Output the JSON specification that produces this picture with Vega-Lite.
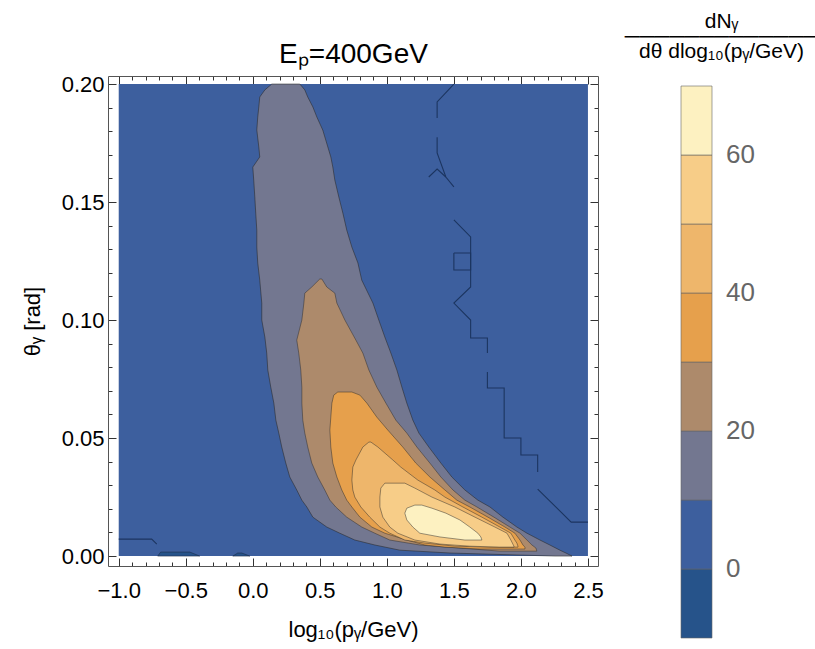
{
  "$schema": "https://vega.github.io/schema/vega-lite/v6.json",
  "width": 490,
  "height": 490,
  "autosize": "none",
  "padding": {"left": 108, "top": 76, "right": 217, "bottom": 83},
  "config": {
    "view": {"stroke": null},
    "font": "Liberation Sans",
    "axis": {"grid": false, "domainColor": "#555", "tickColor": "#333", "tickWidth": 1, "labelFont": "Liberation Sans", "labelFontSize": 22, "labelColor": "#000", "titleFont": "Liberation Sans", "titleFontSize": 22, "titleFontWeight": "normal", "titleColor": "#000", "labelOverlap": false, "labelFlush": false, "labelBound": false}
  },
  "datasets": {
    "bg": [{"p1": -1.0, "p2": 2.5, "t1": 0, "t2": 0.2, "lev": 5}],
    "regions": [
      {"lev": -5, "id": "b1", "theta": 0.0017, "p1": -0.687, "p2": -0.470},
      {"lev": -5, "id": "b1", "theta": 0.0, "p1": -0.709, "p2": -0.396},
      {"lev": -5, "id": "b2", "theta": 0.0013, "p1": -0.112, "p2": -0.082},
      {"lev": -5, "id": "b2", "theta": 0.0, "p1": -0.149, "p2": -0.022},
      {"lev": 15, "id": "g", "theta": 0.2, "p1": 0.142, "p2": 0.351},
      {"lev": 15, "id": "g", "theta": 0.1975, "p1": 0.090, "p2": 0.388},
      {"lev": 15, "id": "g", "theta": 0.1945, "p1": 0.052, "p2": 0.410},
      {"lev": 15, "id": "g", "theta": 0.1903, "p1": 0.045, "p2": 0.448},
      {"lev": 15, "id": "g", "theta": 0.186, "p1": 0.037, "p2": 0.478},
      {"lev": 15, "id": "g", "theta": 0.1805, "p1": 0.030, "p2": 0.522},
      {"lev": 15, "id": "g", "theta": 0.1733, "p1": 0.045, "p2": 0.560},
      {"lev": 15, "id": "g", "theta": 0.1691, "p1": 0.052, "p2": 0.582},
      {"lev": 15, "id": "g", "theta": 0.1648, "p1": 0.0, "p2": 0.597},
      {"lev": 15, "id": "g", "theta": 0.1593, "p1": 0.007, "p2": 0.612},
      {"lev": 15, "id": "g", "theta": 0.1521, "p1": 0.015, "p2": 0.642},
      {"lev": 15, "id": "g", "theta": 0.1453, "p1": 0.022, "p2": 0.672},
      {"lev": 15, "id": "g", "theta": 0.1381, "p1": 0.030, "p2": 0.701},
      {"lev": 15, "id": "g", "theta": 0.1309, "p1": 0.030, "p2": 0.739},
      {"lev": 15, "id": "g", "theta": 0.1242, "p1": 0.037, "p2": 0.784},
      {"lev": 15, "id": "g", "theta": 0.1169, "p1": 0.052, "p2": 0.813},
      {"lev": 15, "id": "g", "theta": 0.1072, "p1": 0.067, "p2": 0.896},
      {"lev": 15, "id": "g", "theta": 0.1, "p1": 0.067, "p2": 0.940},
      {"lev": 15, "id": "g", "theta": 0.0928, "p1": 0.090, "p2": 0.985},
      {"lev": 15, "id": "g", "theta": 0.086, "p1": 0.104, "p2": 1.030},
      {"lev": 15, "id": "g", "theta": 0.0788, "p1": 0.112, "p2": 1.075},
      {"lev": 15, "id": "g", "theta": 0.0716, "p1": 0.134, "p2": 1.112},
      {"lev": 15, "id": "g", "theta": 0.0648, "p1": 0.157, "p2": 1.149},
      {"lev": 15, "id": "g", "theta": 0.0576, "p1": 0.172, "p2": 1.194},
      {"lev": 15, "id": "g", "theta": 0.0521, "p1": 0.194, "p2": 1.239},
      {"lev": 15, "id": "g", "theta": 0.0462, "p1": 0.216, "p2": 1.313},
      {"lev": 15, "id": "g", "theta": 0.0394, "p1": 0.246, "p2": 1.403},
      {"lev": 15, "id": "g", "theta": 0.0335, "p1": 0.276, "p2": 1.485},
      {"lev": 15, "id": "g", "theta": 0.028, "p1": 0.328, "p2": 1.582},
      {"lev": 15, "id": "g", "theta": 0.0237, "p1": 0.366, "p2": 1.679},
      {"lev": 15, "id": "g", "theta": 0.0208, "p1": 0.403, "p2": 1.769},
      {"lev": 15, "id": "g", "theta": 0.0165, "p1": 0.448, "p2": 1.866},
      {"lev": 15, "id": "g", "theta": 0.0123, "p1": 0.552, "p2": 1.970},
      {"lev": 15, "id": "g", "theta": 0.0097, "p1": 0.649, "p2": 2.045},
      {"lev": 15, "id": "g", "theta": 0.0068, "p1": 0.761, "p2": 2.142},
      {"lev": 15, "id": "g", "theta": 0.0047, "p1": 0.910, "p2": 2.216},
      {"lev": 15, "id": "g", "theta": 0.0025, "p1": 1.097, "p2": 2.291},
      {"lev": 15, "id": "g", "theta": 0.0013, "p1": 1.470, "p2": 2.336},
      {"lev": 15, "id": "g", "theta": 0.0, "p1": 2.254, "p2": 2.381},
      {"lev": 25, "id": "br", "theta": 0.1174, "p1": 0.500, "p2": 0.515},
      {"lev": 25, "id": "br", "theta": 0.114, "p1": 0.440, "p2": 0.552},
      {"lev": 25, "id": "br", "theta": 0.1114, "p1": 0.388, "p2": 0.612},
      {"lev": 25, "id": "br", "theta": 0.1072, "p1": 0.381, "p2": 0.627},
      {"lev": 25, "id": "br", "theta": 0.1, "p1": 0.366, "p2": 0.687},
      {"lev": 25, "id": "br", "theta": 0.0915, "p1": 0.328, "p2": 0.769},
      {"lev": 25, "id": "br", "theta": 0.086, "p1": 0.343, "p2": 0.821},
      {"lev": 25, "id": "br", "theta": 0.0788, "p1": 0.358, "p2": 0.866},
      {"lev": 25, "id": "br", "theta": 0.0716, "p1": 0.366, "p2": 0.925},
      {"lev": 25, "id": "br", "theta": 0.0648, "p1": 0.366, "p2": 0.993},
      {"lev": 25, "id": "br", "theta": 0.0576, "p1": 0.373, "p2": 1.067},
      {"lev": 25, "id": "br", "theta": 0.0521, "p1": 0.388, "p2": 1.149},
      {"lev": 25, "id": "br", "theta": 0.0462, "p1": 0.410, "p2": 1.224},
      {"lev": 25, "id": "br", "theta": 0.0394, "p1": 0.440, "p2": 1.321},
      {"lev": 25, "id": "br", "theta": 0.0335, "p1": 0.485, "p2": 1.403},
      {"lev": 25, "id": "br", "theta": 0.028, "p1": 0.537, "p2": 1.493},
      {"lev": 25, "id": "br", "theta": 0.0237, "p1": 0.575, "p2": 1.582},
      {"lev": 25, "id": "br", "theta": 0.0208, "p1": 0.619, "p2": 1.672},
      {"lev": 25, "id": "br", "theta": 0.0165, "p1": 0.701, "p2": 1.799},
      {"lev": 25, "id": "br", "theta": 0.0123, "p1": 0.813, "p2": 1.918},
      {"lev": 25, "id": "br", "theta": 0.0097, "p1": 0.910, "p2": 1.993},
      {"lev": 25, "id": "br", "theta": 0.0068, "p1": 1.022, "p2": 2.045},
      {"lev": 25, "id": "br", "theta": 0.0047, "p1": 1.246, "p2": 2.082},
      {"lev": 25, "id": "br", "theta": 0.0034, "p1": 1.545, "p2": 2.112},
      {"lev": 25, "id": "br", "theta": 0.0021, "p1": 1.843, "p2": 2.119},
      {"lev": 35, "id": "or", "theta": 0.0695, "p1": 0.634, "p2": 0.739},
      {"lev": 35, "id": "or", "theta": 0.0682, "p1": 0.604, "p2": 0.799},
      {"lev": 35, "id": "or", "theta": 0.0648, "p1": 0.590, "p2": 0.851},
      {"lev": 35, "id": "or", "theta": 0.0589, "p1": 0.582, "p2": 0.925},
      {"lev": 35, "id": "or", "theta": 0.0534, "p1": 0.575, "p2": 1.007},
      {"lev": 35, "id": "or", "theta": 0.0462, "p1": 0.582, "p2": 1.119},
      {"lev": 35, "id": "or", "theta": 0.0394, "p1": 0.597, "p2": 1.216},
      {"lev": 35, "id": "or", "theta": 0.0335, "p1": 0.627, "p2": 1.321},
      {"lev": 35, "id": "or", "theta": 0.028, "p1": 0.664, "p2": 1.433},
      {"lev": 35, "id": "or", "theta": 0.0237, "p1": 0.701, "p2": 1.522},
      {"lev": 35, "id": "or", "theta": 0.0208, "p1": 0.739, "p2": 1.619},
      {"lev": 35, "id": "or", "theta": 0.0165, "p1": 0.799, "p2": 1.754},
      {"lev": 35, "id": "or", "theta": 0.0123, "p1": 0.888, "p2": 1.881},
      {"lev": 35, "id": "or", "theta": 0.0097, "p1": 0.985, "p2": 1.955},
      {"lev": 35, "id": "or", "theta": 0.0068, "p1": 1.149, "p2": 1.993},
      {"lev": 35, "id": "or", "theta": 0.0047, "p1": 1.284, "p2": 2.015},
      {"lev": 35, "id": "or", "theta": 0.0038, "p1": 1.433, "p2": 2.030},
      {"lev": 35, "id": "or", "theta": 0.003, "p1": 1.694, "p2": 2.030},
      {"lev": 45, "id": "lo", "theta": 0.0483, "p1": 0.866, "p2": 0.881},
      {"lev": 45, "id": "lo", "theta": 0.0462, "p1": 0.821, "p2": 0.933},
      {"lev": 45, "id": "lo", "theta": 0.0407, "p1": 0.769, "p2": 1.045},
      {"lev": 45, "id": "lo", "theta": 0.0377, "p1": 0.746, "p2": 1.104},
      {"lev": 45, "id": "lo", "theta": 0.0322, "p1": 0.739, "p2": 1.231},
      {"lev": 45, "id": "lo", "theta": 0.028, "p1": 0.746, "p2": 1.358},
      {"lev": 45, "id": "lo", "theta": 0.025, "p1": 0.761, "p2": 1.433},
      {"lev": 45, "id": "lo", "theta": 0.0208, "p1": 0.806, "p2": 1.567},
      {"lev": 45, "id": "lo", "theta": 0.0165, "p1": 0.873, "p2": 1.709},
      {"lev": 45, "id": "lo", "theta": 0.0123, "p1": 0.948, "p2": 1.843},
      {"lev": 45, "id": "lo", "theta": 0.0097, "p1": 1.022, "p2": 1.925},
      {"lev": 45, "id": "lo", "theta": 0.0068, "p1": 1.134, "p2": 1.955},
      {"lev": 45, "id": "lo", "theta": 0.0055, "p1": 1.284, "p2": 1.970},
      {"lev": 45, "id": "lo", "theta": 0.0042, "p1": 1.507, "p2": 1.978},
      {"lev": 45, "id": "lo", "theta": 0.0038, "p1": 1.769, "p2": 1.978},
      {"lev": 55, "id": "po", "theta": 0.0309, "p1": 0.985, "p2": 1.134},
      {"lev": 55, "id": "po", "theta": 0.0288, "p1": 0.955, "p2": 1.209},
      {"lev": 55, "id": "po", "theta": 0.025, "p1": 0.948, "p2": 1.336},
      {"lev": 55, "id": "po", "theta": 0.0208, "p1": 0.948, "p2": 1.507},
      {"lev": 55, "id": "po", "theta": 0.0165, "p1": 0.970, "p2": 1.657},
      {"lev": 55, "id": "po", "theta": 0.0123, "p1": 1.022, "p2": 1.806},
      {"lev": 55, "id": "po", "theta": 0.0097, "p1": 1.082, "p2": 1.896},
      {"lev": 55, "id": "po", "theta": 0.0068, "p1": 1.209, "p2": 1.925},
      {"lev": 55, "id": "po", "theta": 0.0051, "p1": 1.396, "p2": 1.940},
      {"lev": 55, "id": "po", "theta": 0.0042, "p1": 1.619, "p2": 1.948},
      {"lev": 55, "id": "po", "theta": 0.0038, "p1": 1.843, "p2": 1.948},
      {"lev": 65, "id": "y", "theta": 0.0216, "p1": 1.209, "p2": 1.261},
      {"lev": 65, "id": "y", "theta": 0.0203, "p1": 1.149, "p2": 1.336},
      {"lev": 65, "id": "y", "theta": 0.0182, "p1": 1.134, "p2": 1.440},
      {"lev": 65, "id": "y", "theta": 0.0153, "p1": 1.149, "p2": 1.545},
      {"lev": 65, "id": "y", "theta": 0.0123, "p1": 1.194, "p2": 1.619},
      {"lev": 65, "id": "y", "theta": 0.0097, "p1": 1.246, "p2": 1.679},
      {"lev": 65, "id": "y", "theta": 0.0081, "p1": 1.396, "p2": 1.701},
      {"lev": 65, "id": "y", "theta": 0.0068, "p1": 1.582, "p2": 1.709}
    ],
    "lines": [
      {"id": "s1", "seq": 1, "p": 1.5, "theta": 0.2},
      {"id": "s1", "seq": 2, "p": 1.375, "theta": 0.1924},
      {"id": "s1", "seq": 3, "p": 1.375, "theta": 0.1856},
      {"id": "s2", "seq": 1, "p": 1.375, "theta": 0.1775},
      {"id": "s2", "seq": 2, "p": 1.375, "theta": 0.1708},
      {"id": "s2", "seq": 3, "p": 1.44, "theta": 0.1606},
      {"id": "s2", "seq": 4, "p": 1.5, "theta": 0.1564},
      {"id": "s3", "seq": 1, "p": 1.3125, "theta": 0.1606},
      {"id": "s3", "seq": 2, "p": 1.375, "theta": 0.164},
      {"id": "s3", "seq": 3, "p": 1.44, "theta": 0.1606},
      {"id": "s4", "seq": 1, "p": 1.5, "theta": 0.1424},
      {"id": "s4", "seq": 2, "p": 1.625, "theta": 0.1352},
      {"id": "s4", "seq": 3, "p": 1.625, "theta": 0.114},
      {"id": "s4", "seq": 4, "p": 1.5, "theta": 0.1072},
      {"id": "s4", "seq": 5, "p": 1.625, "theta": 0.1},
      {"id": "s4", "seq": 6, "p": 1.625, "theta": 0.0924},
      {"id": "s4", "seq": 7, "p": 1.75, "theta": 0.0924},
      {"id": "s4", "seq": 8, "p": 1.75, "theta": 0.086},
      {"id": "sq", "seq": 1, "p": 1.5, "theta": 0.1284},
      {"id": "sq", "seq": 2, "p": 1.625, "theta": 0.1284},
      {"id": "sq", "seq": 3, "p": 1.625, "theta": 0.1212},
      {"id": "sq", "seq": 4, "p": 1.5, "theta": 0.1212},
      {"id": "sq", "seq": 5, "p": 1.5, "theta": 0.1284},
      {"id": "s5", "seq": 1, "p": 1.75, "theta": 0.078},
      {"id": "s5", "seq": 2, "p": 1.75, "theta": 0.0712},
      {"id": "s5", "seq": 3, "p": 1.875, "theta": 0.0712},
      {"id": "s5", "seq": 4, "p": 1.875, "theta": 0.05},
      {"id": "s5", "seq": 5, "p": 2.0, "theta": 0.05},
      {"id": "s5", "seq": 6, "p": 2.0, "theta": 0.0428},
      {"id": "s5", "seq": 7, "p": 2.125, "theta": 0.0428},
      {"id": "s5", "seq": 8, "p": 2.125, "theta": 0.0356},
      {"id": "s6", "seq": 1, "p": 2.125, "theta": 0.0284},
      {"id": "s6", "seq": 2, "p": 2.375, "theta": 0.0144},
      {"id": "s6", "seq": 3, "p": 2.5, "theta": 0.0144},
      {"id": "s7", "seq": 1, "p": -1.0, "theta": 0.0072},
      {"id": "s7", "seq": 2, "p": -0.754, "theta": 0.0072},
      {"id": "s7", "seq": 3, "p": -0.716, "theta": 0.0051}
    ]
  },
  "layer": [
    {
      "data": {"name": "bg"},
      "mark": {"type": "rect"},
      "encoding": {
        "x": {"field": "p1", "type": "quantitative", "scale": {"domain": [-1.08, 2.575], "nice": false, "zero": false},
          "axis": {"orient": "bottom", "values": [-1,-0.9,-0.8,-0.7,-0.6,-0.5,-0.4,-0.3,-0.2,-0.1,0,0.1,0.2,0.3,0.4,0.5,0.6,0.7,0.8,0.9,1,1.1,1.2,1.3,1.4,1.5,1.6,1.7,1.8,1.9,2,2.1,2.2,2.3,2.4,2.5],
            "format": ".1f", "labelExpr": "abs(datum.value*2 - round(datum.value*2)) < 0.001 ? datum.label : ''",
            "tickSize": {"condition": {"test": "abs(datum.value*2 - round(datum.value*2)) < 0.001", "value": -8}, "value": -4},
            "labelPadding": 22, "title": "log₁₀(pᵧ/GeV)", "titlePadding": 14}},
        "x2": {"field": "p2"},
        "y": {"field": "t1", "type": "quantitative", "scale": {"domain": [-0.0042, 0.2034], "nice": false, "zero": false},
          "axis": {"orient": "left", "values": [0,0.01,0.02,0.03,0.04,0.05,0.06,0.07,0.08,0.09,0.1,0.11,0.12,0.13,0.14,0.15,0.16,0.17,0.18,0.19,0.2],
            "format": ".2f", "labelExpr": "abs(datum.value*20 - round(datum.value*20)) < 0.001 ? datum.label : ''",
            "tickSize": {"condition": {"test": "abs(datum.value*20 - round(datum.value*20)) < 0.001", "value": -8}, "value": -4},
            "labelPadding": 12, "title": "θᵧ [rad]", "titlePadding": 17}},
        "y2": {"field": "t2"},
        "color": {"field": "lev", "type": "quantitative",
          "scale": {"type": "threshold", "domain": [0,10,20,30,40,50,60], "range": ["#26538a","#3d5f9e","#737790","#ad8a6b","#e6a04c","#eeb66b","#f7cd88","#fdf1c1"]},
          "legend": {"type": "gradient", "direction": "vertical", "orient": "none", "legendX": 573, "legendY": 10, "padding": 0,
            "gradientLength": 552, "gradientThickness": 31, "gradientStrokeColor": "#666", "gradientStrokeWidth": 0.6,
            "title": null,
            "labelFont": "Liberation Sans", "labelFontSize": 26, "labelColor": "#666", "labelOffset": 14,
            "labelExpr": "datum.value % 20 === 0 ? datum.label : ''"}}
      }
    },
    {
      "data": {"name": "regions"},
      "transform": [{"filter": "datum.lev == -5"}],
      "mark": {"type": "area", "orient": "horizontal", "interpolate": "linear", "stroke": "#1b2a45", "strokeWidth": 0.8, "strokeOpacity": 0.7},
      "encoding": {
        "y": {"field": "theta", "type": "quantitative", "axis": null},
        "x": {"field": "p1", "type": "quantitative", "axis": null, "stack": null},
        "x2": {"field": "p2"},
        "detail": {"field": "id"},
        "color": {"field": "lev", "type": "quantitative", "scale": {"type": "threshold", "domain": [0,10,20,30,40,50,60], "range": ["#26538a","#3d5f9e","#737790","#ad8a6b","#e6a04c","#eeb66b","#f7cd88","#fdf1c1"]}}
      }
    },
    {
      "data": {"name": "regions"},
      "transform": [{"filter": "datum.lev == 15"}],
      "mark": {"type": "area", "orient": "horizontal", "interpolate": "linear", "stroke": "#2a2a2a", "strokeWidth": 0.8, "strokeOpacity": 0.7},
      "encoding": {
        "y": {"field": "theta", "type": "quantitative", "axis": null},
        "x": {"field": "p1", "type": "quantitative", "axis": null, "stack": null},
        "x2": {"field": "p2"},
        "color": {"field": "lev", "type": "quantitative", "scale": {"type": "threshold", "domain": [0,10,20,30,40,50,60], "range": ["#26538a","#3d5f9e","#737790","#ad8a6b","#e6a04c","#eeb66b","#f7cd88","#fdf1c1"]}}
      }
    },
    {
      "data": {"name": "regions"},
      "transform": [{"filter": "datum.lev == 25"}],
      "mark": {"type": "area", "orient": "horizontal", "interpolate": "linear", "stroke": "#2a2a2a", "strokeWidth": 0.8, "strokeOpacity": 0.6},
      "encoding": {
        "y": {"field": "theta", "type": "quantitative", "axis": null},
        "x": {"field": "p1", "type": "quantitative", "axis": null, "stack": null},
        "x2": {"field": "p2"},
        "color": {"field": "lev", "type": "quantitative", "scale": {"type": "threshold", "domain": [0,10,20,30,40,50,60], "range": ["#26538a","#3d5f9e","#737790","#ad8a6b","#e6a04c","#eeb66b","#f7cd88","#fdf1c1"]}}
      }
    },
    {
      "data": {"name": "regions"},
      "transform": [{"filter": "datum.lev == 35"}],
      "mark": {"type": "area", "orient": "horizontal", "interpolate": "linear", "stroke": "#2a2a2a", "strokeWidth": 0.8, "strokeOpacity": 0.6},
      "encoding": {
        "y": {"field": "theta", "type": "quantitative", "axis": null},
        "x": {"field": "p1", "type": "quantitative", "axis": null, "stack": null},
        "x2": {"field": "p2"},
        "color": {"field": "lev", "type": "quantitative", "scale": {"type": "threshold", "domain": [0,10,20,30,40,50,60], "range": ["#26538a","#3d5f9e","#737790","#ad8a6b","#e6a04c","#eeb66b","#f7cd88","#fdf1c1"]}}
      }
    },
    {
      "data": {"name": "regions"},
      "transform": [{"filter": "datum.lev == 45"}],
      "mark": {"type": "area", "orient": "horizontal", "interpolate": "linear", "stroke": "#2a2a2a", "strokeWidth": 0.8, "strokeOpacity": 0.6},
      "encoding": {
        "y": {"field": "theta", "type": "quantitative", "axis": null},
        "x": {"field": "p1", "type": "quantitative", "axis": null, "stack": null},
        "x2": {"field": "p2"},
        "color": {"field": "lev", "type": "quantitative", "scale": {"type": "threshold", "domain": [0,10,20,30,40,50,60], "range": ["#26538a","#3d5f9e","#737790","#ad8a6b","#e6a04c","#eeb66b","#f7cd88","#fdf1c1"]}}
      }
    },
    {
      "data": {"name": "regions"},
      "transform": [{"filter": "datum.lev == 55"}],
      "mark": {"type": "area", "orient": "horizontal", "interpolate": "linear", "stroke": "#2a2a2a", "strokeWidth": 0.8, "strokeOpacity": 0.6},
      "encoding": {
        "y": {"field": "theta", "type": "quantitative", "axis": null},
        "x": {"field": "p1", "type": "quantitative", "axis": null, "stack": null},
        "x2": {"field": "p2"},
        "color": {"field": "lev", "type": "quantitative", "scale": {"type": "threshold", "domain": [0,10,20,30,40,50,60], "range": ["#26538a","#3d5f9e","#737790","#ad8a6b","#e6a04c","#eeb66b","#f7cd88","#fdf1c1"]}}
      }
    },
    {
      "data": {"name": "regions"},
      "transform": [{"filter": "datum.lev == 65"}],
      "mark": {"type": "area", "orient": "horizontal", "interpolate": "linear", "stroke": "#2a2a2a", "strokeWidth": 0.8, "strokeOpacity": 0.6},
      "encoding": {
        "y": {"field": "theta", "type": "quantitative", "axis": null},
        "x": {"field": "p1", "type": "quantitative", "axis": null, "stack": null},
        "x2": {"field": "p2"},
        "color": {"field": "lev", "type": "quantitative", "scale": {"type": "threshold", "domain": [0,10,20,30,40,50,60], "range": ["#26538a","#3d5f9e","#737790","#ad8a6b","#e6a04c","#eeb66b","#f7cd88","#fdf1c1"]}}
      }
    },
    {
      "data": {"name": "lines"},
      "mark": {"type": "line", "color": "#1c3560", "strokeWidth": 1.1},
      "encoding": {
        "x": {"field": "p", "type": "quantitative", "axis": null},
        "y": {"field": "theta", "type": "quantitative", "axis": null},
        "detail": {"field": "id"},
        "order": {"field": "seq", "type": "quantitative"}
      }
    },
    {
      "data": {"name": "bg"},
      "mark": {"type": "rect", "opacity": 0},
      "encoding": {
        "x": {"field": "p1", "type": "quantitative",
          "axis": {"orient": "top", "values": [-1,-0.9,-0.8,-0.7,-0.6,-0.5,-0.4,-0.3,-0.2,-0.1,0,0.1,0.2,0.3,0.4,0.5,0.6,0.7,0.8,0.9,1,1.1,1.2,1.3,1.4,1.5,1.6,1.7,1.8,1.9,2,2.1,2.2,2.3,2.4,2.5],
            "labels": false, "title": "Eₚ=400GeV", "titleFontSize": 28, "titlePadding": 7,
            "tickSize": {"condition": {"test": "abs(datum.value*2 - round(datum.value*2)) < 0.001", "value": -8}, "value": -4}}},
        "x2": {"field": "p2"},
        "y": {"field": "t1", "type": "quantitative",
          "axis": {"orient": "right", "values": [0,0.01,0.02,0.03,0.04,0.05,0.06,0.07,0.08,0.09,0.1,0.11,0.12,0.13,0.14,0.15,0.16,0.17,0.18,0.19,0.2],
            "labels": false,
            "title": ["dNᵧ", "─────────────", "dθ dlog₁₀(pᵧ/GeV)"],
            "titleAngle": 0, "titleAlign": "center", "titleBaseline": "top", "titleX": 123, "titleY": -66,
            "titleFontSize": 21, "titleLineHeight": 15,
            "tickSize": {"condition": {"test": "abs(datum.value*20 - round(datum.value*20)) < 0.001", "value": -8}, "value": -4}}},
        "y2": {"field": "t2"}
      }
    }
  ],
  "resolve": {"axis": {"x": "independent", "y": "independent"}}
}
